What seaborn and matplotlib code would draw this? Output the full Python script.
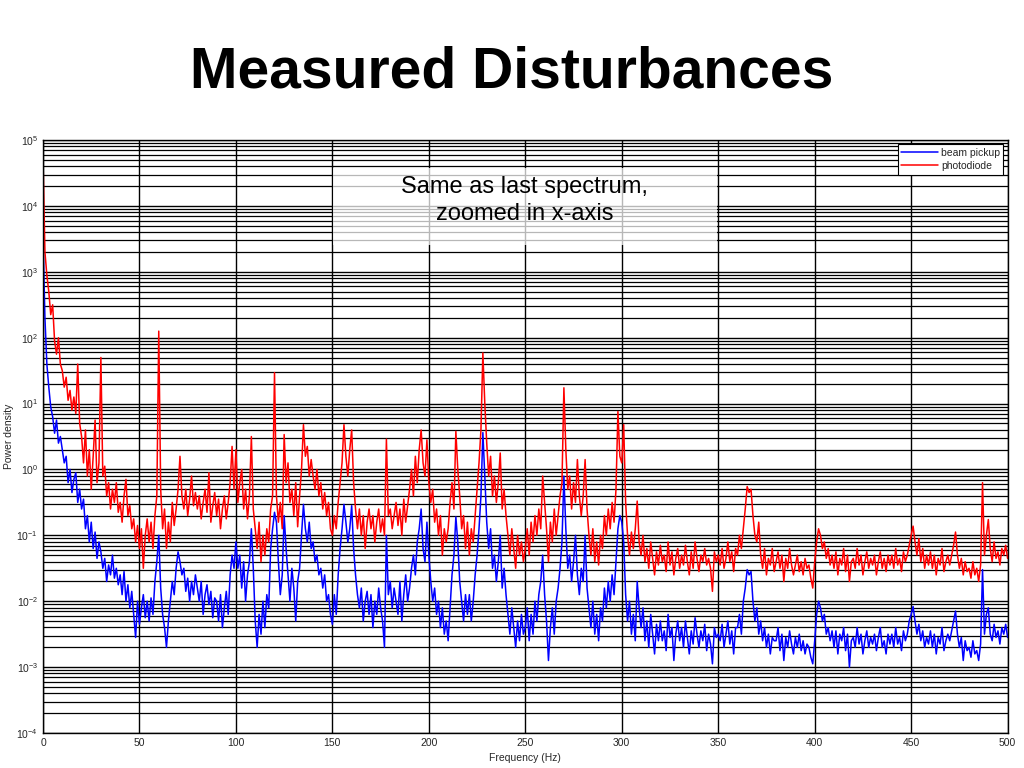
import numpy as np
import pandas as pd
import matplotlib
matplotlib.use('Agg')
import matplotlib.pyplot as plt
import matplotlib.ticker as mticker
import seaborn as sns

# frequency grid, 1 Hz steps
freq_hz = np.arange(0, 501)

# log10 of power density, one row per 10 Hz
photodiode_log = [
    4.7, 3.3, 2.95, 2.7, 2.35, 2.5, 1.95, 1.75, 2.0, 1.6,
    1.5, 1.25, 1.4, 1.05, 1.2, 0.9, 1.1, 0.85, 1.6, 0.7,
    0.5, 0.1, 0.6, -0.1, 0.3, -0.3, 0.2, 0.75, -0.2, 0.1,
    1.7, -0.1, 0.05, -0.4, -0.2, -0.6, -0.3, -0.5, -0.2, -0.65,
    -0.5, -0.8, -0.4, -0.15, -0.7, -0.55, -0.9, -0.75, -1.1, -0.85,
    -1.2, -0.9, -1.5, -1.0, -0.75, -1.1, -0.8, -1.2, -0.7, -0.4,
    2.1, -0.3, -0.9, -0.6, -1.2, -0.8, -1.1, -0.5, -0.85, -0.6,
    -0.3, 0.2, -0.4, -0.6, -0.3, -0.7, -0.45, -0.1, -0.55, -0.35,
    -0.6, -0.4, -0.75, -0.5, -0.3, -0.65, -0.05, -0.8, -0.55, -0.35,
    -0.7, -0.45, -0.9, -0.6, -0.4, -0.75, -0.5, -0.2, 0.35, -0.3,
    0.3, -0.5, -0.2, 0.0, -0.6, -0.3, -0.75, -0.4, 0.5, -0.6,
    -0.9, -1.2, -0.8, -1.4, -1.0, -1.3, -0.9, -1.1, -0.6, -0.4,
    1.47, -0.4, -0.8, -0.5, -0.9, 0.53, -0.2, 0.1, -0.5, -0.3,
    -0.7, -0.2, -0.87, -0.4, 0.0, 0.68, 0.2, 0.35, -0.1, 0.15,
    -0.1, -0.3, 0.0, -0.4, -0.2, -0.6, -0.35, -0.7, -0.5, -0.9,
    -1.0, -0.7, -0.9, -0.5, -0.2, 0.1, 0.68, 0.2, -0.1, 0.3,
    0.6, -0.2, -0.6, -0.9, -0.6, -1.0, -0.7, -1.2, -0.8, -0.6,
    -0.9, -0.7, -1.1, -0.8, -0.6, -0.95, -0.75, -1.0, 0.46, -0.7,
    -0.6, -0.9, -0.7, -0.5, -0.85, -0.6, -1.0, -0.45, -0.8, -0.55,
    -0.3, 0.0, -0.4, 0.2, -0.2, 0.3, 0.6, 0.1, -0.1, 0.45,
    -0.2, -0.5, -0.3, -0.8, -0.6, -1.0, -0.7, -1.3, -0.9, -1.1,
    -0.9, -0.5, -0.2, -0.6, 0.58, 0.0, -0.4, -0.9, -0.7, -1.2,
    -0.8, -1.3, -0.9, -1.1, -0.7, -0.3, 0.1, 0.6, 1.77, 1.0,
    0.4, -0.1, 0.2, -0.4, -0.1, -0.5, -0.2, 0.25, -0.6, -0.3,
    -0.7, -1.0, -1.3, -0.9, -1.2, -1.5, -1.0, -1.3, -1.1, -1.4,
    -1.2, -0.9, -1.3, -0.8, -1.1, -0.7, -1.0, -0.6, -0.9, -0.1,
    -0.5, -0.9, -1.4, -0.8, -1.1, -0.6, -1.0, -0.7, -0.4, -0.2,
    1.24, 0.3, -0.3, -0.1, -0.6, -0.2, -0.5, 0.15, -0.4, -0.7,
    -0.4, 0.15, -0.6, -1.0, -1.3, -0.9, -1.4, -1.1, -1.45, -1.0,
    -1.2, -0.7, -1.0, -0.6, -0.9, -0.5, -0.8, -0.3, 0.88, 0.2,
    0.1, 0.68, -0.5, -1.0, -1.3, -0.95, -1.2, -0.9, -0.48, -1.1,
    -1.3, -1.0, -1.4, -1.2, -1.5, -1.1, -1.35, -1.6, -1.25, -1.45,
    -1.15, -1.4, -1.3, -1.55, -1.1, -1.45, -1.25, -1.6, -1.35, -1.2,
    -1.5, -1.3, -1.45, -1.15, -1.4, -1.6, -1.25, -1.5, -1.1, -1.35,
    -1.55, -1.3, -1.4, -1.2, -1.45, -1.35, -1.5, -1.85, -1.25, -1.4,
    -1.3, -1.45, -1.2, -1.5, -1.35, -1.1, -1.4, -1.25, -1.55, -1.2,
    -1.3, -1.0, -1.2, -0.9, -0.6, -0.26, -0.35, -0.3, -0.7, -1.0,
    -1.1, -0.8, -1.3, -1.5, -1.2, -1.6, -1.35, -1.45, -1.2, -1.55,
    -1.4, -1.25, -1.5, -1.3, -1.7, -1.35, -1.5, -1.2, -1.45, -1.6,
    -1.45, -1.3, -1.55, -1.4, -1.6, -1.35, -1.5, -1.45, -1.65, -1.8,
    -1.4, -1.1, -0.9, -1.0, -1.2, -1.1, -1.35, -1.2, -1.45, -1.3,
    -1.5, -1.25, -1.6, -1.35, -1.45, -1.2, -1.55, -1.3, -1.7, -1.4,
    -1.35, -1.5, -1.2, -1.45, -1.3, -1.6, -1.4, -1.25, -1.5, -1.35,
    -1.45, -1.3, -1.6, -1.4, -1.25, -1.5, -1.35, -1.55, -1.3, -1.45,
    -1.3, -1.5, -1.2, -1.45, -1.35, -1.55, -1.25, -1.4, -1.3, -1.15,
    -1.0, -0.86, -1.1, -1.3, -1.05, -1.4, -1.2, -1.5, -1.3, -1.45,
    -1.25, -1.5, -1.3, -1.6, -1.35, -1.45, -1.2, -1.55, -1.4, -1.3,
    -1.45, -1.3, -1.15, -0.95, -1.3, -1.5, -1.35, -1.6, -1.4, -1.55,
    -1.5, -1.65, -1.4, -1.6, -1.5, -1.7, -1.45, -0.2, -1.3, -1.0,
    -0.76, -1.2, -1.4, -1.1, -1.35, -1.25, -1.45, -1.2, -1.3, -1.15, -1.35,
]

beam_pickup_log = [
    3.5, 2.3, 1.6, 1.25, 0.95, 0.8, 0.55, 0.75, 0.4, 0.5,
    0.3, 0.1, 0.2, -0.2, 0.0, -0.35, -0.15, -0.05, -0.5, -0.3,
    -0.6, -0.45, -0.9, -0.7, -1.1, -0.8, -1.2, -0.95, -1.35, -1.1,
    -1.25, -1.5, -1.35, -1.7, -1.45, -1.6, -1.3, -1.65, -1.5, -1.75,
    -1.6, -1.9, -1.55, -2.0, -1.75, -2.1, -1.85, -2.2, -2.55, -2.0,
    -2.35, -2.1, -1.9, -2.25, -2.0, -2.3, -1.95, -2.2, -1.7, -1.4,
    -1.0, -1.8, -2.2, -2.4, -2.7, -2.3, -2.0, -1.7, -1.9, -1.5,
    -1.25, -1.4, -1.6, -1.5, -1.85, -1.65, -2.0, -1.7, -1.9, -1.6,
    -1.8, -2.0, -1.7, -2.2, -1.9, -1.75, -2.05, -1.85, -2.25, -1.95,
    -2.0, -2.3, -1.9, -2.4, -2.1, -1.85, -2.2, -1.6, -1.3, -1.5,
    -1.1, -1.5, -1.3, -1.8, -1.4, -2.0, -1.6, -1.4, -0.9, -1.5,
    -2.3, -2.7, -2.2, -2.5, -2.0, -2.4, -1.9, -2.1, -1.2, -0.9,
    -0.65, -0.8, -1.4, -1.9, -1.6, -0.7, -1.2, -1.6, -2.0, -1.5,
    -1.8, -2.3, -1.7, -1.5, -1.0, -0.53, -0.9, -1.1, -0.8, -1.2,
    -1.1, -1.4, -1.3, -1.6, -1.5, -1.8, -1.6, -2.0, -1.9, -2.2,
    -2.35, -1.9, -2.2, -1.6, -1.2, -0.9, -0.53, -0.8, -1.1, -0.9,
    -0.55, -1.2, -1.6, -1.9, -2.1, -1.8, -2.3, -2.0, -1.85, -2.2,
    -1.9, -2.4, -2.0, -2.2, -1.8, -2.1, -2.3, -2.7, -1.0, -1.9,
    -1.7, -2.1, -1.8, -2.0, -2.2, -1.7, -2.3, -1.9, -1.6, -2.0,
    -1.8, -1.5, -1.3, -1.6, -1.1, -0.9, -0.6, -1.2, -1.4, -0.8,
    -1.3, -1.7, -2.0, -1.8, -2.2, -2.0, -2.4, -2.1, -2.5, -2.3,
    -2.6, -2.1, -1.6, -1.3, -0.72, -1.1, -1.7, -2.0, -2.3, -1.9,
    -2.2, -1.9, -2.3, -2.0, -1.6, -1.3, -0.9, -0.4, 0.56, -0.1,
    -0.8, -1.2, -0.9, -1.5, -1.3, -1.7, -1.4, -1.0, -1.8, -1.5,
    -1.9, -2.2, -2.5, -2.1, -2.4, -2.7, -2.3, -2.6, -2.2, -2.5,
    -2.4, -2.1, -2.6, -2.2, -2.5, -2.0, -2.3, -1.9, -1.7, -1.3,
    -1.9, -2.3, -2.9, -2.4, -2.1, -2.5, -2.0, -1.8, -1.5, -1.1,
    -0.1, -0.9, -1.5, -1.3, -1.7, -1.4, -1.0, -1.6, -1.9, -1.5,
    -1.7, -1.0, -1.8, -2.1, -2.4, -2.0, -2.5, -2.2, -2.6, -2.1,
    -2.3, -1.8, -2.1, -1.7, -2.0, -1.6, -1.9, -1.4, -0.9, -0.7,
    -0.8, -1.1, -1.9, -2.3, -2.0, -2.5, -2.2, -2.6, -1.7, -2.1,
    -2.4, -2.1, -2.6, -2.3, -2.7, -2.2, -2.5, -2.8, -2.35, -2.6,
    -2.3, -2.6, -2.45, -2.75, -2.2, -2.55, -2.4, -2.9, -2.5, -2.3,
    -2.6, -2.4, -2.7, -2.3, -2.55, -2.8, -2.45, -2.65, -2.25, -2.5,
    -2.7, -2.45, -2.6, -2.35, -2.75, -2.5, -2.65, -2.95, -2.4, -2.55,
    -2.5, -2.6, -2.35, -2.7, -2.5, -2.3, -2.65, -2.45, -2.8, -2.4,
    -2.4, -2.2, -2.5, -2.0, -1.8, -1.52, -1.6, -1.55, -2.0, -2.3,
    -2.1, -2.5, -2.3, -2.6, -2.4, -2.7, -2.5, -2.8, -2.55, -2.6,
    -2.6, -2.4, -2.75, -2.5, -2.9, -2.55, -2.7, -2.45, -2.65, -2.8,
    -2.55, -2.7, -2.5, -2.75, -2.6, -2.8, -2.65, -2.7, -2.85, -2.95,
    -2.6, -2.2, -2.0, -2.1, -2.3, -2.2, -2.5, -2.4, -2.6, -2.45,
    -2.7, -2.45, -2.8, -2.5, -2.6, -2.4, -2.75, -2.5, -3.0, -2.6,
    -2.55, -2.7, -2.4, -2.65, -2.5, -2.8, -2.6, -2.45, -2.7, -2.55,
    -2.65, -2.5, -2.75, -2.55, -2.4, -2.7, -2.6, -2.8, -2.5, -2.65,
    -2.5, -2.7, -2.4, -2.65, -2.55, -2.75, -2.45, -2.6, -2.5, -2.3,
    -2.2, -2.08, -2.3, -2.5, -2.35, -2.6, -2.45, -2.7, -2.55, -2.65,
    -2.45, -2.7, -2.5, -2.8, -2.55, -2.65, -2.4, -2.75, -2.6, -2.5,
    -2.6, -2.45, -2.3, -2.15, -2.5, -2.7, -2.55, -2.9, -2.6, -2.75,
    -2.7, -2.85, -2.6, -2.8, -2.75, -2.9, -2.65, -1.52, -2.5, -2.2,
    -2.1, -2.5, -2.6, -2.35, -2.55, -2.45, -2.65, -2.4, -2.5, -2.35, -2.55,
]

series_names = ['beam pickup', 'photodiode']
series_colors = {'beam pickup': '#0000ff', 'photodiode': '#ff0000'}

df = pd.concat([
    pd.DataFrame({'freq': freq_hz, 'power': 10.0 ** np.array(beam_pickup_log), 'signal': 'beam pickup'}),
    pd.DataFrame({'freq': freq_hz, 'power': 10.0 ** np.array(photodiode_log), 'signal': 'photodiode'}),
])

sns.set_style('white')
plt.rcParams['font.family'] = ['Liberation Sans', 'DejaVu Sans']

fig = plt.figure(figsize=(10.24, 7.68), dpi=100)
ax = fig.add_axes([0.042, 0.0456, 0.942, 0.772])

for name in series_names:
    sns.lineplot(ax=ax, data=df[df['signal'] == name], x='freq', y='power',
                 color=series_colors[name], linewidth=1.1, label=name)

ax.set_yscale('log')
ax.set_xlim(0, 500)
ax.set_ylim(1e-4, 1e5)
ax.xaxis.set_major_locator(mticker.MultipleLocator(50))
ax.xaxis.set_minor_locator(mticker.NullLocator())
ax.yaxis.set_major_locator(mticker.LogLocator(base=10, numticks=12))
ax.yaxis.set_minor_locator(mticker.LogLocator(base=10, subs=np.arange(2, 10), numticks=12))
ax.yaxis.set_minor_formatter(mticker.NullFormatter())
ax.xaxis.get_offset_text().set_visible(False)
ax.yaxis.get_offset_text().set_visible(False)

ax.grid(which='major', axis='both', color='black', linewidth=1.0)
ax.grid(which='minor', axis='y', color='black', linewidth=0.9)
ax.set_axisbelow(True)
ax.tick_params(which='both', direction='in', labelsize=7.5, length=4, color='black')
for sp in ax.spines.values():
    sp.set_color('black')
    sp.set_linewidth(1.0)

ax.set_xlabel('Frequency (Hz)', fontsize=7.5, labelpad=4)
ax.set_ylabel('Power density', fontsize=7.5, labelpad=2)

leg = ax.legend(loc='upper right', fontsize=7.5, frameon=True, fancybox=False,
                borderaxespad=0.4, handlelength=3.5, handletextpad=0.3,
                borderpad=0.35, labelspacing=0.3)
leg.get_frame().set_edgecolor('black')
leg.get_frame().set_linewidth(0.8)
leg.get_frame().set_alpha(1.0)

# translucent note box over the grid
fig.patches.append(plt.Rectangle((0.325, 0.681), 0.375, 0.1, transform=fig.transFigure,
                                 facecolor='white', alpha=0.72, edgecolor='none', zorder=5))
fig.text(0.512, 0.739, 'Same as last spectrum,\nzoomed in x-axis', ha='center', va='center',
         fontsize=17, color='black', linespacing=1.32, zorder=6)

fig.text(0.5, 0.905, 'Measured Disturbances', ha='center', va='center',
         fontsize=41, fontweight='bold', color='black')

fig.savefig('out.png', dpi=100)
